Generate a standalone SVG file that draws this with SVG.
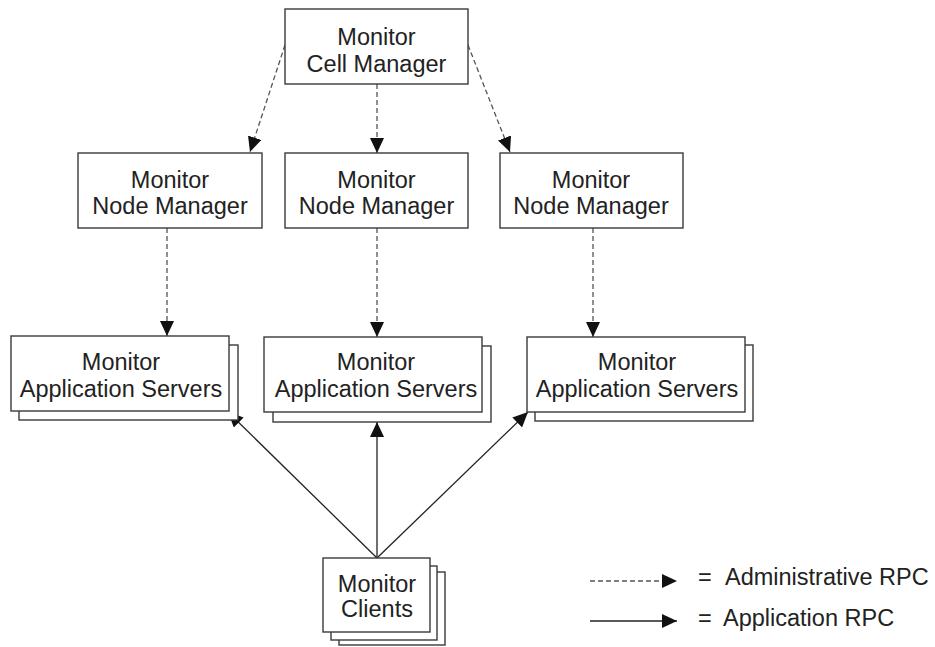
<svg xmlns="http://www.w3.org/2000/svg" width="935" height="647" viewBox="0 0 935 647">
  <style>
    .box { fill: #ffffff; stroke: #3a3a3a; stroke-width: 1.4; }
    .lbl { font-family: "Liberation Sans", Arial, sans-serif; font-size: 23.5px; fill: #222222; text-anchor: middle; }
    .key { font-family: "Liberation Sans", Arial, sans-serif; font-size: 23.5px; fill: #222222; }
    .admin { fill: none; stroke: #555555; stroke-width: 1.3; stroke-dasharray: 5 3; }
    .app { fill: none; stroke: #222222; stroke-width: 1.3; }
  </style>
  <defs>
    <marker id="head" markerUnits="userSpaceOnUse" markerWidth="16" markerHeight="14" refX="15" refY="7" orient="auto">
      <path d="M0,0 L15,7 L0,14 Z" fill="#111111"/>
    </marker>
  </defs>

  <rect width="935" height="647" fill="#ffffff"/>

  <!-- Connectors -->
  <g id="connectors">
    <!-- administrative calls from the cell manager -->
    <path class="admin" d="M285,45 L250,152" marker-end="url(#head)"/>
    <path class="admin" d="M377,84 L377,153" marker-end="url(#head)"/>
    <path class="admin" d="M468,45 L510,152" marker-end="url(#head)"/>
    <!-- administrative calls from node managers to servers -->
    <path class="admin" d="M167,228 L167,336" marker-end="url(#head)"/>
    <path class="admin" d="M377,228 L377,337" marker-end="url(#head)"/>
    <path class="admin" d="M593,228 L593,337" marker-end="url(#head)"/>
    <!-- application calls from clients -->
    <path class="app" d="M377,558 L228,412" marker-end="url(#head)"/>
    <path class="app" d="M377,558 L377,422" marker-end="url(#head)"/>
    <path class="app" d="M377,558 L528,412" marker-end="url(#head)"/>
  </g>

  <!-- Cell manager -->
  <g id="cell-manager">
    <rect class="box" x="285" y="9" width="183" height="75"/>
    <text class="lbl" x="376.5" y="45">Monitor</text>
    <text class="lbl" x="376.5" y="72">Cell Manager</text>
  </g>

  <!-- Node managers -->
  <g id="node-manager-1">
    <rect class="box" x="78" y="153" width="184" height="75"/>
    <text class="lbl" x="170" y="188">Monitor</text>
    <text class="lbl" x="170" y="214">Node Manager</text>
  </g>
  <g id="node-manager-2">
    <rect class="box" x="285" y="153" width="183" height="75"/>
    <text class="lbl" x="376.5" y="188">Monitor</text>
    <text class="lbl" x="376.5" y="214">Node Manager</text>
  </g>
  <g id="node-manager-3">
    <rect class="box" x="500" y="153" width="183" height="75"/>
    <text class="lbl" x="591" y="188">Monitor</text>
    <text class="lbl" x="591" y="214">Node Manager</text>
  </g>

  <!-- Application server stacks -->
  <g id="app-servers-1">
    <rect class="box" x="19" y="345" width="219" height="75"/>
    <rect class="box" x="11" y="336" width="218" height="75"/>
    <text class="lbl" x="121" y="370">Monitor</text>
    <text class="lbl" x="121" y="397">Application Servers</text>
  </g>
  <g id="app-servers-2">
    <rect class="box" x="273" y="346" width="218" height="76"/>
    <rect class="box" x="264" y="337" width="218" height="75"/>
    <text class="lbl" x="376" y="370">Monitor</text>
    <text class="lbl" x="376" y="397">Application Servers</text>
  </g>
  <g id="app-servers-3">
    <rect class="box" x="535" y="345" width="218" height="76"/>
    <rect class="box" x="527" y="337" width="218" height="75"/>
    <text class="lbl" x="637" y="370">Monitor</text>
    <text class="lbl" x="637" y="397">Application Servers</text>
  </g>

  <!-- Client stack -->
  <g id="clients">
    <rect class="box" x="339" y="572" width="106" height="73"/>
    <rect class="box" x="331" y="566" width="106" height="74"/>
    <rect class="box" x="323" y="558" width="107" height="74"/>
    <text class="lbl" x="377" y="592">Monitor</text>
    <text class="lbl" x="377" y="617">Clients</text>
  </g>

  <!-- Key -->
  <g id="legend">
    <path class="admin" d="M590,581 L677,581" marker-end="url(#head)"/>
    <path class="app" d="M590,621 L677,621" marker-end="url(#head)"/>
    <text class="key" y="585"><tspan x="698">=</tspan><tspan x="725">Administrative RPC</tspan></text>
    <text class="key" y="626"><tspan x="698">=</tspan><tspan x="723">Application RPC</tspan></text>
  </g>
</svg>
